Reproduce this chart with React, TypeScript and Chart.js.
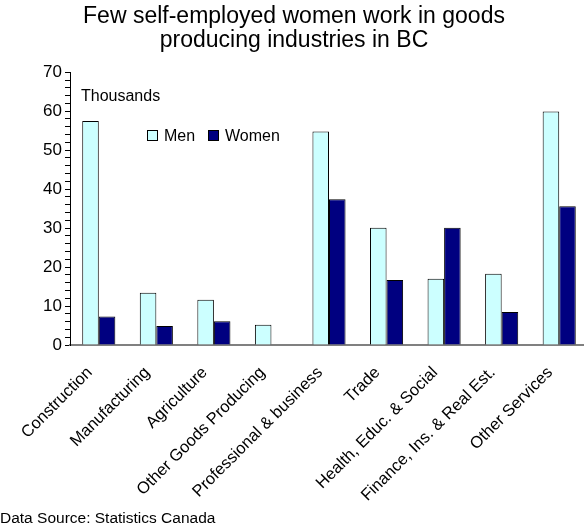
import React, { useEffect, useRef } from "react";
import { Chart, registerables } from "chart.js";

Chart.register(...registerables);

const categories = [
  "Construction",
  "Manufacturing",
  "Agriculture",
  "Other Goods Producing",
  "Professional & business",
  "Trade",
  "Health, Educ. & Social",
  "Finance, Ins. & Real Est.",
  "Other Services",
];
const menValues = [57.5, 13.4, 11.6, 5.2, 54.8, 30.1, 17.0, 18.3, 59.9];
const womenValues = [7.3, 4.9, 6.1, 0, 37.4, 16.7, 30.1, 8.5, 35.6];
const seriesNames = ["Men", "Women"];
const seriesColors = ["#CCFFFF", "#000080"];
const yTickLabels = [0, 10, 20, 30, 40, 50, 60, 70];
const titleLines = ["Few self-employed women work in goods", "producing industries in BC"];
const unitLabel = "Thousands";
const sourceLabel = "Data Source: Statistics Canada";

const FONT = "'Liberation Sans', Arial, sans-serif";

const overlayPlugin = {
  id: "overlayText",
  afterDraw(chart: any) {
    const ctx = chart.ctx;
    ctx.save();
    ctx.fillStyle = "#000";
    ctx.textBaseline = "alphabetic";
    ctx.textAlign = "left";
    ctx.font = `16px ${FONT}`;
    ctx.fillText(unitLabel, 81, 101);
    const lx = [147, 208];
    seriesNames.forEach((name, i) => {
      ctx.fillStyle = seriesColors[i];
      ctx.fillRect(lx[i] + 0.5, 130.5, 10, 10);
      ctx.strokeStyle = "#000";
      ctx.lineWidth = 1;
      ctx.strokeRect(lx[i] + 0.5, 130.5, 10, 10);
      ctx.fillStyle = "#000";
      ctx.fillText(name, lx[i] + 17, 141);
    });
    ctx.font = `15.5px ${FONT}`;
    ctx.fillText(sourceLabel, 0, 523);
    ctx.restore();
  },
};

export default function App() {
  const ref = useRef<HTMLCanvasElement>(null);
  useEffect(() => {
    if (!ref.current) return;
    const chart = new Chart(ref.current, {
      type: "bar",
      data: {
        labels: categories,
        datasets: [
          {
            label: seriesNames[0],
            data: menValues,
            backgroundColor: seriesColors[0],
            borderColor: "#000",
            borderWidth: 1,
            categoryPercentage: 0.575,
            barPercentage: 1,
          },
          {
            label: seriesNames[1],
            data: womenValues,
            backgroundColor: seriesColors[1],
            borderColor: "#000",
            borderWidth: 1,
            categoryPercentage: 0.575,
            barPercentage: 1,
          },
        ],
      },
      options: {
        animation: false,
        responsive: false,
        maintainAspectRatio: false,
        layout: { padding: { left: 0, right: 4, top: 0, bottom: 0 } },
        plugins: {
          legend: { display: false },
          tooltip: { enabled: false },
          title: {
            display: true,
            text: titleLines,
            color: "#000",
            font: { family: FONT, size: 23, weight: "normal", lineHeight: 1.07 },
            padding: { top: 4, bottom: 19 },
          },
        },
        scales: {
          x: {
            grid: { display: false, drawTicks: false },
            border: { color: "#808080", width: 2 },
            ticks: {
              autoSkip: false,
              maxRotation: 45,
              minRotation: 45,
              color: "#000",
              padding: 18,
              labelOffset: -9,
              font: { family: FONT, size: 16.5 },
            },
            afterFit(scale: any) {
              scale.height = 182;
              scale.paddingLeft = 0;
              scale.paddingRight = 0;
            },
          },
          y: {
            min: 0,
            max: 70,
            grid: {
              drawOnChartArea: false,
              drawTicks: true,
              tickLength: 5,
              color: "#000",
            },
            border: { color: "#000", width: 1 },
            ticks: {
              stepSize: 2,
              autoSkip: false,
              color: "#000",
              padding: 3,
              font: { family: FONT, size: 17 },
              callback: (v: any) => (yTickLabels.includes(Number(v)) ? String(v) : ""),
            },
            afterFit(scale: any) {
              scale.width = 70;
            },
          },
        },
      },
      plugins: [overlayPlugin],
    });
    return () => chart.destroy();
  }, []);
  return (
    <div style={{ position: "absolute", left: 0, top: 0, width: 584, height: 527, overflow: "hidden", background: "#fff" }}>
      <canvas ref={ref} width={592} height={527} style={{ display: "block" }} />
    </div>
  );
}
